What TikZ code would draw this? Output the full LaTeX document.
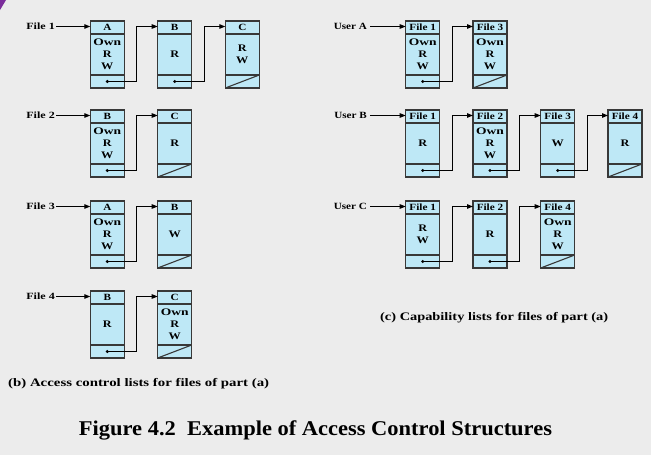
\documentclass[tikz,border=0pt]{standalone}
\usepackage{fontspec}
\setmainfont{Liberation Serif}
\usetikzlibrary{arrows.meta,calc}

\definecolor{paper}{HTML}{ECECEC}
\definecolor{cellfill}{HTML}{BEE8F6}
\definecolor{cellline}{HTML}{383838}
\definecolor{corner}{HTML}{7B2D9B}

\tikzset{
  cellbox/.style={draw=cellline, fill=cellfill, line width=1.2pt,
    minimum width=34pt, minimum height=67pt, inner sep=0pt, outer sep=0pt},
  divider/.style={draw=cellline, line width=1.1pt},
  headtext/.style={font=\bfseries\fontsize{9.5}{11}\selectfont, inner sep=0pt},
  bodytext/.style={font=\bfseries\fontsize{10}{12}\selectfont, align=center, inner sep=0pt},
  linkline/.style={draw=black, line width=1.1pt, -{Triangle[length=6pt,width=4.5pt]}},
  lbl/.style={font=\bfseries\fontsize{9.5}{12}\selectfont, inner sep=1pt},
  capt/.style={font=\bfseries\fontsize{11.5}{13}\selectfont, inner sep=0pt},
}
% wide lettering
\newcommand\wide[2][1.22]{\scalebox{#1}[1]{#2}}

% one list entry: #1 name, #2 left x, #3 top y, #4 header, #5 rights
\newcommand\entry[5]{%
  \node[cellbox, anchor=north west] (#1) at (#2,#3) {};
  \draw[divider] ([yshift=-13pt]#1.north west) -- ([yshift=-13pt]#1.north east);
  \draw[divider] ([yshift=13pt]#1.south west) -- ([yshift=13pt]#1.south east);
  \node[headtext] (#1-h) at ([yshift=-6.5pt]#1.north) {\wide[1.18]{#4}};
  \node[bodytext] (#1-b) at (#1.center) {#5};
  \coordinate (#1-p) at ($(#1.south)+(0,-6.5)$);
  \coordinate (#1-in) at ($(#1.north west)+(0,5.5)$);
}
% pointer from entry #1 to entry #2
\newcommand\follow[2]{%
  \fill (#1-p) circle (1.7pt);
  \coordinate (#1-turn) at ($(#1.east)+(12.5,0)$);
  \draw[linkline] (#1-p) -| (#1-turn |- #2-in) -- (#2-in);
}
% end of list: slashed pointer field
\newcommand\nil[1]{%
  \draw[divider] (#1.south west) -- ([yshift=13pt]#1.south east);
}
\newcommand\own{\wide[1.35]{Own}\\\wide{R}\\\wide{W}}

\begin{document}
\begin{tikzpicture}[x=1pt, y=-1pt]
  \fill[paper] (0,0) rectangle (651,455);
  \useasboundingbox (0,0) rectangle (651,455);
  \fill[corner] (0,0) -- (6,0) -- (0,10) -- cycle;

  % ---- access control lists ----
  \entry{a1}{90.3}{21}{A}{\own}
  \entry{b1}{157.7}{21}{B}{\wide{R}}
  \entry{c1}{225.3}{21}{C}{\wide{R}\\\wide{W}}
  \follow{a1}{b1} \follow{b1}{c1} \nil{c1}

  \entry{b2}{90.3}{110}{B}{\own}
  \entry{c2}{157.7}{110}{C}{\wide{R}}
  \follow{b2}{c2} \nil{c2}

  \entry{a3}{90.3}{201}{A}{\own}
  \entry{b3}{157.7}{201}{B}{\wide{W}}
  \follow{a3}{b3} \nil{b3}

  \entry{b4}{90.3}{291}{B}{\wide{R}}
  \entry{c4}{157.7}{291}{C}{\own}
  \follow{b4}{c4} \nil{c4}

  \node[lbl, anchor=east] (f1) at (56,26.5) {\wide[1.27]{File 1}};
  \node[lbl, anchor=east] (f2) at (56,115.5) {\wide[1.27]{File 2}};
  \node[lbl, anchor=east] (f3) at (56,206.5) {\wide[1.27]{File 3}};
  \node[lbl, anchor=east] (f4) at (56,296.5) {\wide[1.27]{File 4}};
  \draw[linkline] (f1.east) -- (a1-in);
  \draw[linkline] (f2.east) -- (b2-in);
  \draw[linkline] (f3.east) -- (a3-in);
  \draw[linkline] (f4.east) -- (b4-in);

  \node[capt, anchor=west] (capb) at (8,384)
    {\wide[1.29]{(b) Access control lists for files of part (a)}};

  % ---- capability lists ----
  \entry{ua1}{405.7}{21}{File 1}{\own}
  \entry{ua3}{473}{21}{File 3}{\own}
  \follow{ua1}{ua3} \nil{ua3}

  \entry{ub1}{405.7}{110}{File 1}{\wide{R}}
  \entry{ub2}{473}{110}{File 2}{\own}
  \entry{ub3}{540.7}{110}{File 3}{\wide{W}}
  \entry{ub4}{608}{110}{File 4}{\wide{R}}
  \follow{ub1}{ub2} \follow{ub2}{ub3} \follow{ub3}{ub4} \nil{ub4}

  \entry{uc1}{405.7}{201}{File 1}{\wide{R}\\\wide{W}}
  \entry{uc2}{473}{201}{File 2}{\wide{R}}
  \entry{uc4}{540.7}{201}{File 4}{\own}
  \follow{uc1}{uc2} \follow{uc2}{uc4} \nil{uc4}

  \node[lbl, anchor=east] (usa) at (368,26.5) {\wide[1.17]{User A}};
  \node[lbl, anchor=east] (usb) at (368,115.5) {\wide[1.17]{User B}};
  \node[lbl, anchor=east] (usc) at (368,206.5) {\wide[1.17]{User C}};
  \draw[linkline] ([xshift=2pt]usa.east) -- (ua1-in);
  \draw[linkline] ([xshift=2pt]usb.east) -- (ub1-in);
  \draw[linkline] ([xshift=2pt]usc.east) -- (uc1-in);

  \node[capt, anchor=west] (capc) at (380,318)
    {\wide[1.25]{(c) Capability lists for files of part (a)}};

  \node[font=\bfseries\fontsize{21}{24}\selectfont, inner sep=0pt] (title) at (315.5,430)
    {\wide[1.07]{Figure 4.2\enspace Example of Access Control Structures}};
\end{tikzpicture}
\end{document}
